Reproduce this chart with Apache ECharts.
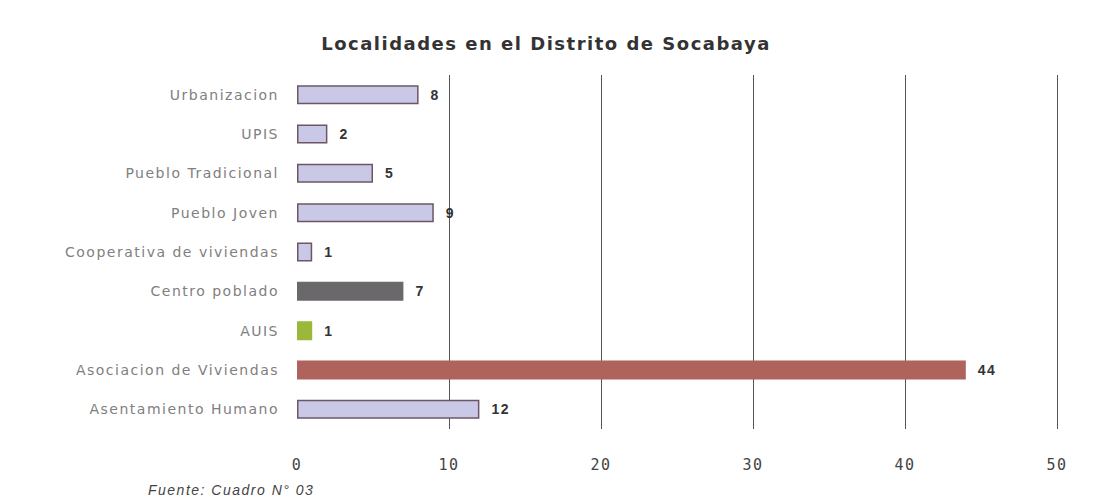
<!DOCTYPE html>
<html>
<head>
<meta charset="utf-8">
<script src="https://cdn.jsdelivr.net/npm/echarts@6/dist/echarts.min.js"></script>
<style>
  html, body { margin: 0; padding: 0; background: #fff; }
  #chart { width: 1096px; height: 497px; }
  /* the scanned chart has loosely spaced lettering */
  #chart svg text { letter-spacing: 1.5px; }
</style>
</head>
<body>
<div id="chart"></div>
<script>
const categories = [
  'Urbanizacion',
  'UPIS',
  'Pueblo Tradicional',
  'Pueblo Joven',
  'Cooperativa de viviendas',
  'Centro poblado',
  'AUIS',
  'Asociacion de Viviendas',
  'Asentamiento Humano'
]
const values = [8, 2, 5, 9, 1, 7, 1, 44, 12]
const barColors = ['#c9c8e6', '#c9c8e6', '#c9c8e6', '#c9c8e6', '#c9c8e6', '#6b686c', '#9cb83a', '#b0625c', '#c9c8e6']
const xTicks = [0, 10, 20, 30, 40, 50]

const chart = echarts.init(document.getElementById('chart'), null, { renderer: 'svg' })

chart.setOption({
  backgroundColor: '#fff',
  title: {
    text: 'Localidades en el Distrito de Socabaya',
    left: 541,
    top: 29,
    textAlign: 'center',
    textStyle: { fontFamily: 'DejaVu Sans', fontSize: 18, fontWeight: 'bold', color: '#333' }
  },
  graphic: [{
    type: 'text',
    left: 148,
    top: 483,
    style: { text: 'Fuente: Cuadro N° 03', font: 'italic 14px "Liberation Sans"', fill: '#444' }
  }],
  grid: { left: 297, right: 39, top: 75, bottom: 68 },
  xAxis: {
    type: 'value',
    min: xTicks[0],
    max: xTicks[xTicks.length - 1],
    interval: 10,
    axisLine: { show: false },
    axisTick: { show: false },
    axisLabel: { margin: 28, fontSize: 15, color: '#444', fontFamily: 'DejaVu Sans Mono' },
    splitLine: { show: true, showMinLine: false, lineStyle: { color: '#555', width: 1 } }
  },
  yAxis: {
    type: 'category',
    data: categories,
    inverse: true,
    axisLine: { show: false },
    axisTick: { show: false },
    axisLabel: { margin: 18, fontSize: 14, color: '#808080', fontFamily: 'DejaVu Sans' }
  },
  series: [{
    type: 'bar',
    data: values.map((v, i) => ({
      value: v,
      itemStyle: {
        color: barColors[i],
        borderColor: barColors[i] === '#c9c8e6' ? '#6e5565' : barColors[i],
        borderWidth: 1.5
      }
    })),
    barWidth: 19,
    label: {
      show: true,
      position: 'right',
      distance: 12,
      fontSize: 14,
      fontWeight: 'bold',
      color: '#333',
      fontFamily: 'Liberation Sans'
    }
  }]
})
</script>
</body>
</html>
